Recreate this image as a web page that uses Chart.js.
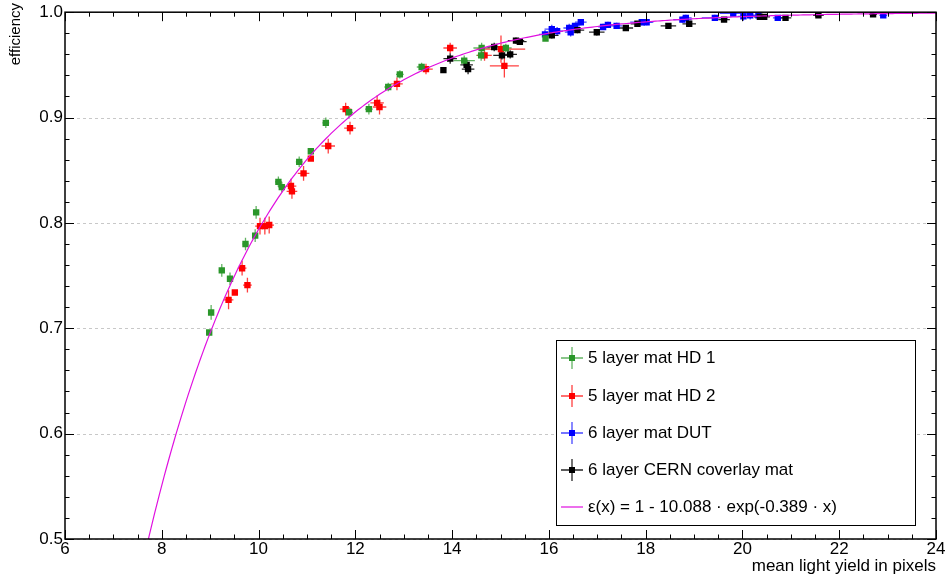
<!DOCTYPE html>
<html>
<head>
<meta charset="utf-8">
<title>efficiency vs light yield</title>
<script src="https://cdn.jsdelivr.net/npm/chart.js@4.4.1/dist/chart.umd.min.js"></script>
<style>
  html, body { margin: 0; padding: 0; background: #fff; }
  canvas { display: block; }
</style>
</head>
<body>
<canvas id="chart" width="948" height="581"></canvas>
<script>
// 5 layer mat HD 1
const hd1X    = [8.98, 9.02, 9.24, 9.41, 9.73, 9.93, 9.95, 10.41, 10.48, 10.84, 11.08, 11.39, 11.87, 12.28, 12.68, 12.92, 13.37, 14.25, 14.61, 14.60, 15.11, 15.93];
const hd1Y    = [0.696, 0.715, 0.755, 0.747, 0.780, 0.788, 0.810, 0.839, 0.834, 0.858, 0.868, 0.895, 0.905, 0.908, 0.929, 0.941, 0.948, 0.954, 0.966, 0.959, 0.966, 0.975];
const hd1XErr = [0, 0.06, 0.06, 0.06, 0.06, 0.06, 0.06, 0.07, 0.07, 0.07, 0, 0.07, 0.08, 0.08, 0.08, 0.08, 0.10, 0.22, 0.17, 0.10, 0.12, 0];
const hd1YErr = [0, 0.007, 0.006, 0.006, 0.006, 0.006, 0.006, 0.005, 0.005, 0.005, 0, 0.005, 0.005, 0.005, 0.004, 0.004, 0.004, 0.005, 0.005, 0.005, 0.004, 0];

// 5 layer mat HD 2
const hd2X    = [9.38, 9.51, 9.66, 9.77, 10.03, 10.13, 10.22, 10.67, 10.69, 10.93, 11.08, 11.44, 11.80, 11.89, 12.45, 12.50, 12.86, 13.46, 13.96, 14.67, 15.01, 15.08];
const hd2Y    = [0.727, 0.734, 0.757, 0.741, 0.797, 0.797, 0.798, 0.835, 0.830, 0.847, 0.861, 0.873, 0.908, 0.890, 0.914, 0.910, 0.932, 0.946, 0.966, 0.959, 0.965, 0.949];
const hd2XErr = [0.10, 0, 0.09, 0.09, 0.10, 0.10, 0.10, 0.11, 0.11, 0.12, 0, 0.14, 0.12, 0.12, 0.14, 0.14, 0.12, 0.14, 0.14, 0.15, 0.50, 0.30];
const hd2YErr = [0.009, 0, 0.007, 0.007, 0.008, 0.008, 0.008, 0.007, 0.007, 0.007, 0, 0.007, 0.006, 0.006, 0.007, 0.007, 0.006, 0.005, 0.005, 0.005, 0.013, 0.011];

// 6 layer mat DUT
const dutX    = [15.92, 16.06, 16.17, 16.42, 16.45, 16.54, 16.66, 17.12, 17.22, 17.40, 17.92, 18.02, 18.76, 18.83, 19.43, 19.81, 20.02, 20.16, 20.33, 20.73, 22.91];
const dutY    = [0.979, 0.984, 0.982, 0.985, 0.981, 0.987, 0.9905, 0.986, 0.988, 0.987, 0.9905, 0.9905, 0.993, 0.9946, 0.9946, 0.9988, 0.996, 0.997, 0.997, 0.9946, 0.997];
const dutXErr = [0.12, 0.15, 0.12, 0.12, 0.12, 0.10, 0.12, 0.10, 0.10, 0.12, 0.24, 0.12, 0.19, 0.12, 0.27, 0.28, 0.12, 0.12, 0.14, 0.10, 0.08];
const dutYErr = [0.004, 0.004, 0.004, 0.004, 0.004, 0.003, 0.003, 0.003, 0.003, 0.003, 0.003, 0.003, 0.003, 0.003, 0.003, 0.002, 0.004, 0.004, 0.004, 0.002, 0.002];

// 6 layer CERN coverlay mat
const cernX    = [13.82, 13.96, 14.30, 14.33, 14.87, 15.03, 15.20, 15.32, 15.40, 16.06, 16.59, 16.99, 17.59, 17.83, 18.47, 18.90, 19.62, 20.36, 20.45, 20.89, 21.57, 22.70];
const cernY    = [0.945, 0.956, 0.950, 0.946, 0.967, 0.959, 0.960, 0.973, 0.972, 0.978, 0.983, 0.981, 0.985, 0.989, 0.987, 0.989, 0.993, 0.9955, 0.9955, 0.9946, 0.997, 0.998];
const cernXErr = [0, 0.14, 0.13, 0.13, 0.14, 0.18, 0.14, 0.17, 0.14, 0.14, 0.14, 0.16, 0.15, 0.14, 0.16, 0.14, 0.12, 0.12, 0.12, 0.12, 0.11, 0.08];
const cernYErr = [0, 0.005, 0.005, 0.005, 0.004, 0.004, 0.004, 0.003, 0.003, 0.003, 0.003, 0.003, 0.002, 0.002, 0.002, 0.002, 0.002, 0.002, 0.002, 0.002, 0.001, 0.001];

// fit parameters: eps(x) = 1 - A * exp(-B * x)
const FIT_A = 10.088;
const FIT_B = 0.389;

const xTicks = [6, 8, 10, 12, 14, 16, 18, 20, 22, 24];
const yTicks = [0.5, 0.6, 0.7, 0.8, 0.9, 1.0];

const FONT = "'Liberation Sans', Arial, sans-serif";

function points(xs, ys) {
    return xs.map((x, i) => ({ x: x, y: ys[i] }));
}

function fitCurve() {
    const pts = [];
    for (let x = 7.5; x <= 24.0001; x += 0.05) {
        pts.push({ x: x, y: 1 - FIT_A * Math.exp(-FIT_B * x) });
    }
    return pts;
}

const series = [
    { label: '5 layer mat HD 1', xs: hd1X, ys: hd1Y, ex: hd1XErr, ey: hd1YErr, color: '#2a962a', bar: 'rgba(60,160,60,0.8)', order: 1 },
    { label: '5 layer mat HD 2', xs: hd2X, ys: hd2Y, ex: hd2XErr, ey: hd2YErr, color: '#ff0000', bar: 'rgba(255,30,30,0.85)', order: 2 },
    { label: '6 layer mat DUT', xs: dutX, ys: dutY, ex: dutXErr, ey: dutYErr, color: '#0000ff', bar: 'rgba(40,40,255,0.85)', order: 4 },
    { label: '6 layer CERN coverlay mat', xs: cernX, ys: cernY, ex: cernXErr, ey: cernYErr, color: '#000000', bar: 'rgba(0,0,0,0.85)', order: 3 }
];
const fitLabel = '\u03b5(x) = 1 - ' + FIT_A.toFixed(3) + ' \u00b7 exp(-' + FIT_B.toFixed(3) + ' \u00b7 x)';
const fitColor = '#e010e0';

const datasets = series.map(s => ({
    type: 'scatter',
    label: s.label,
    data: points(s.xs, s.ys),
    xErr: s.ex,
    yErr: s.ey,
    barColor: s.bar,
    backgroundColor: s.color,
    borderColor: s.color,
    borderWidth: 0,
    pointStyle: 'rect',
    pointRadius: 4.5,
    pointHoverRadius: 4.5,
    order: s.order
}));
datasets.push({
    type: 'line',
    label: fitLabel,
    data: fitCurve(),
    borderColor: fitColor,
    borderWidth: 1.2,
    pointRadius: 0,
    tension: 0,
    fill: false,
    order: 0
});

// error bars and dashed grid, under the markers
const errorBars = {
    id: 'errorBars',
    beforeDatasetsDraw(chart) {
        const { ctx, chartArea: a, scales: { x, y } } = chart;
        ctx.save();
        ctx.strokeStyle = '#c8c8c8';
        ctx.lineWidth = 1;
        ctx.setLineDash([3, 3]);
        yTicks.forEach(v => {
            const py = Math.round(y.getPixelForValue(v)) + 0.5;
            ctx.beginPath();
            ctx.moveTo(a.left, py);
            ctx.lineTo(a.right, py);
            ctx.stroke();
        });
        ctx.setLineDash([]);
        ctx.beginPath();
        ctx.rect(a.left, a.top, a.right - a.left, a.bottom - a.top);
        ctx.clip();
        chart.data.datasets.forEach(ds => {
            if (!ds.xErr) return;
            ctx.strokeStyle = ds.barColor;
            ctx.lineWidth = 1.3;
            ds.data.forEach((p, i) => {
                const px = x.getPixelForValue(p.x);
                const py = y.getPixelForValue(p.y);
                ctx.beginPath();
                if (ds.xErr[i] > 0) {
                    ctx.moveTo(x.getPixelForValue(p.x - ds.xErr[i]), py);
                    ctx.lineTo(x.getPixelForValue(p.x + ds.xErr[i]), py);
                }
                if (ds.yErr[i] > 0) {
                    ctx.moveTo(px, y.getPixelForValue(p.y - ds.yErr[i]));
                    ctx.lineTo(px, y.getPixelForValue(p.y + ds.yErr[i]));
                }
                ctx.stroke();
            });
        });
        ctx.restore();
    }
};

// frame with inward ticks on all four sides, axis titles and the legend box
const rootFrame = {
    id: 'rootFrame',
    afterDatasetsDraw(chart) {
        const { ctx, chartArea: a, scales: { x, y } } = chart;
        ctx.save();
        ctx.strokeStyle = '#000';
        ctx.lineWidth = 1.5;
        ctx.strokeRect(a.left, a.top, a.right - a.left, a.bottom - a.top);

        ctx.lineWidth = 1;
        ctx.beginPath();
        for (let i = 0; i <= 36; i++) {
            const v = 6 + i * 0.5;
            const len = (i % 4 === 0) ? 9 : 4.5;
            const px = Math.round(x.getPixelForValue(v)) + 0.5;
            ctx.moveTo(px, a.bottom);
            ctx.lineTo(px, a.bottom - len);
            ctx.moveTo(px, a.top);
            ctx.lineTo(px, a.top + len);
        }
        for (let i = 0; i <= 25; i++) {
            const v = 0.5 + i * 0.02;
            const len = (i % 5 === 0) ? 9 : 4.5;
            const py = Math.round(y.getPixelForValue(v)) + 0.5;
            ctx.moveTo(a.left, py);
            ctx.lineTo(a.left + len, py);
            ctx.moveTo(a.right, py);
            ctx.lineTo(a.right - len, py);
        }
        ctx.stroke();

        // axis titles
        ctx.fillStyle = '#000';
        ctx.font = '17px ' + FONT;
        ctx.textAlign = 'right';
        ctx.textBaseline = 'middle';
        ctx.fillText('mean light yield in pixels', a.right, 566);
        ctx.save();
        ctx.font = '15px ' + FONT;
        ctx.translate(16, 3);
        ctx.rotate(-Math.PI / 2);
        ctx.fillText('efficiency', 0, 0);
        ctx.restore();

        // legend
        const lx = 556, ly = 340, lw = 359, lh = 185;
        ctx.fillStyle = '#fff';
        ctx.fillRect(lx, ly, lw, lh);
        ctx.strokeStyle = '#000';
        ctx.lineWidth = 1;
        ctx.strokeRect(lx + 0.5, ly + 0.5, lw, lh);
        const rowY = [358, 396, 433, 470, 507];
        const mx = 572;
        series.forEach((s, i) => {
            const ry = rowY[i];
            ctx.strokeStyle = s.bar;
            ctx.lineWidth = 1.3;
            ctx.beginPath();
            ctx.moveTo(mx - 11, ry);
            ctx.lineTo(mx + 11, ry);
            ctx.moveTo(mx, ry - 11);
            ctx.lineTo(mx, ry + 11);
            ctx.stroke();
            ctx.fillStyle = s.color;
            ctx.fillRect(mx - 3, ry - 3, 6, 6);
        });
        ctx.strokeStyle = fitColor;
        ctx.lineWidth = 1.2;
        ctx.beginPath();
        ctx.moveTo(mx - 11, rowY[4]);
        ctx.lineTo(mx + 11, rowY[4]);
        ctx.stroke();

        ctx.fillStyle = '#000';
        ctx.font = '17px ' + FONT;
        ctx.textAlign = 'left';
        ctx.textBaseline = 'middle';
        series.forEach((s, i) => ctx.fillText(s.label, 588, rowY[i]));
        ctx.fillText(fitLabel, 588, rowY[4]);
        ctx.restore();
    }
};

new Chart(document.getElementById('chart'), {
    data: { datasets: datasets },
    options: {
        responsive: false,
        animation: false,
        events: [],
        layout: { padding: { top: 11, right: 12, left: 0, bottom: 0 } },
        plugins: {
            legend: { display: false },
            tooltip: { enabled: false }
        },
        scales: {
            x: {
                type: 'linear',
                min: 6,
                max: 24,
                afterFit(scale) { scale.height = 42; },
                afterBuildTicks(scale) { scale.ticks = xTicks.map(v => ({ value: v })); },
                grid: { display: false, drawTicks: false },
                border: { display: false },
                ticks: {
                    padding: 0,
                    color: '#000',
                    font: { family: FONT, size: 17 },
                    maxRotation: 0,
                    callback: v => String(v)
                }
            },
            y: {
                type: 'linear',
                min: 0.5,
                max: 1.0,
                afterFit(scale) { scale.width = 65; },
                afterBuildTicks(scale) { scale.ticks = yTicks.map(v => ({ value: v })); },
                grid: { display: false, drawTicks: false },
                border: { display: false },
                ticks: {
                    padding: 2,
                    color: '#000',
                    font: { family: FONT, size: 17 },
                    callback: v => v.toFixed(1)
                }
            }
        }
    },
    plugins: [errorBars, rootFrame]
});
</script>
</body>
</html>
